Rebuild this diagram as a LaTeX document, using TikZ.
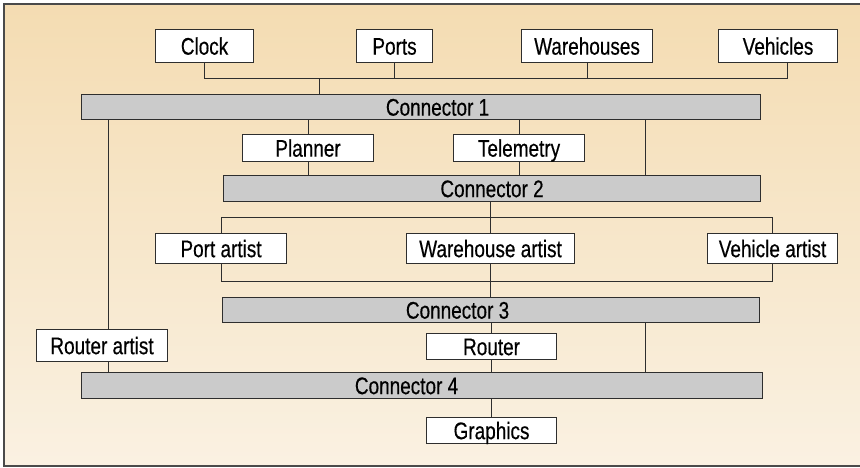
\documentclass[tikz,border=0pt]{standalone}
\usepackage{fontspec}
\setmainfont{Liberation Sans}[FakeStretch=0.79,FakeBold=0.4]
\definecolor{lc}{HTML}{2E2E2E}
\definecolor{barc}{HTML}{CBCBCB}
\definecolor{bgtop}{HTML}{F4DCB2}
\definecolor{bgbot}{HTML}{FAF1E2}
\definecolor{framec}{HTML}{4A4A4A}
\begin{document}
\begin{tikzpicture}[x=1pt,y=-1pt,
  txt/.style={font=\fontsize{24}{27}\selectfont, text height=17.2pt, text depth=0pt, inner sep=0pt},
  box/.style={txt, draw=lc, line width=1.1pt, fill=white, anchor=north west},
  bar/.style={box, fill=barc},
  lbl/.style={txt},
  wire/.style={draw=lc, line width=1pt}]
\useasboundingbox (0,0) rectangle (860,468);
% background
\shade[top color=bgtop, bottom color=bgbot] (4,4) rectangle (860,466);
\draw[framec, line width=1.3pt] (864,4) -- (4,4) -- (4,466) -- (864,466);
% top row
\node[box, minimum width=98pt, minimum height=33pt] (clock) at (155,29) {Clock};
\node[box, minimum width=76pt, minimum height=33pt] (ports) at (356,29) {Ports};
\node[box, minimum width=131pt, minimum height=33pt] (wh) at (521,29) {Warehouses};
\node[box, minimum width=119pt, minimum height=33pt] (veh) at (718,29) {Vehicles};
% connector 1
\node[bar, minimum width=679pt, minimum height=25pt, label={[lbl, xshift=16.5pt]center:Connector 1}] (c1) at (81,94) {};
\node[box, minimum width=131pt, minimum height=27pt] (planner) at (242,134) {Planner};
\node[box, minimum width=131pt, minimum height=27pt] (tele) at (453,134) {Telemetry};
\node[bar, minimum width=537pt, minimum height=26pt, label={[lbl]center:Connector 2}] (c2) at (223,175) {};
% artists
\node[box, minimum width=131pt, minimum height=30pt] (pa) at (155,233) {Port artist};
\node[box, minimum width=168pt, minimum height=30pt] (wa) at (406,233) {Warehouse artist};
\node[box, minimum width=130pt, minimum height=30pt] (va) at (707,233) {Vehicle artist};
\node[bar, minimum width=537pt, minimum height=25pt, label={[lbl, xshift=-33.5pt]center:Connector 3}] (c3) at (222,297) {};
\node[box, minimum width=131pt, minimum height=32pt] (ra) at (36,329) {Router artist};
\node[box, minimum width=130pt, minimum height=26pt] (router) at (426,333) {Router};
\node[bar, minimum width=681pt, minimum height=26pt, label={[lbl, xshift=-15.5pt]center:Connector 4}] (c4) at (81,372) {};
\node[box, minimum width=130pt, minimum height=26pt] (gfx) at (426,417) {Graphics};
% helper coordinates
\coordinate (tb) at (787,79);
\coordinate (tc) at (319,79);
\coordinate (xR) at (645,0);
\coordinate (xL) at (108,0);
\coordinate (ab1) at (0,217);
\coordinate (ab2) at (0,281);
% wires
\draw[wire] (clock.south) |- (tb) -- (tb |- veh.south);
\draw[wire] (ports.south) -- (ports.south |- tb);
\draw[wire] (wh.south) -- (wh.south |- tb);
\draw[wire] (tc) -- (tc |- c1.north);
\draw[wire] (c1.south -| planner.north) -- (planner.north);
\draw[wire] (planner.south) -- (planner.south |- c2.north);
\draw[wire] (c1.south -| tele.north) -- (tele.north);
\draw[wire] (tele.south) -- (tele.south |- c2.north);
\draw[wire] (c1.south -| xR) -- (c2.north -| xR);
\draw[wire] (c1.south -| xL) -- (ra.north -| xL);
\draw[wire] (ra.south -| xL) -- (c4.north -| xL);
\draw[wire] (c2.south -| wa.north) -- (wa.north);
\draw[wire] (pa.north) -- (pa.north |- ab1) -- (va.north |- ab1) -- (va.north);
\draw[wire] (pa.south) -- (pa.south |- ab2) -- (va.south |- ab2) -- (va.south);
\draw[wire] (wa.south) -- (c3.north -| wa.south);
\draw[wire] (c3.south -| router.north) -- (router.north);
\draw[wire] (router.south) -- (c4.north -| router.south);
\draw[wire] (c3.south -| xR) -- (c4.north -| xR);
\draw[wire] (c4.south -| gfx.north) -- (gfx.north);
\end{tikzpicture}
\end{document}
